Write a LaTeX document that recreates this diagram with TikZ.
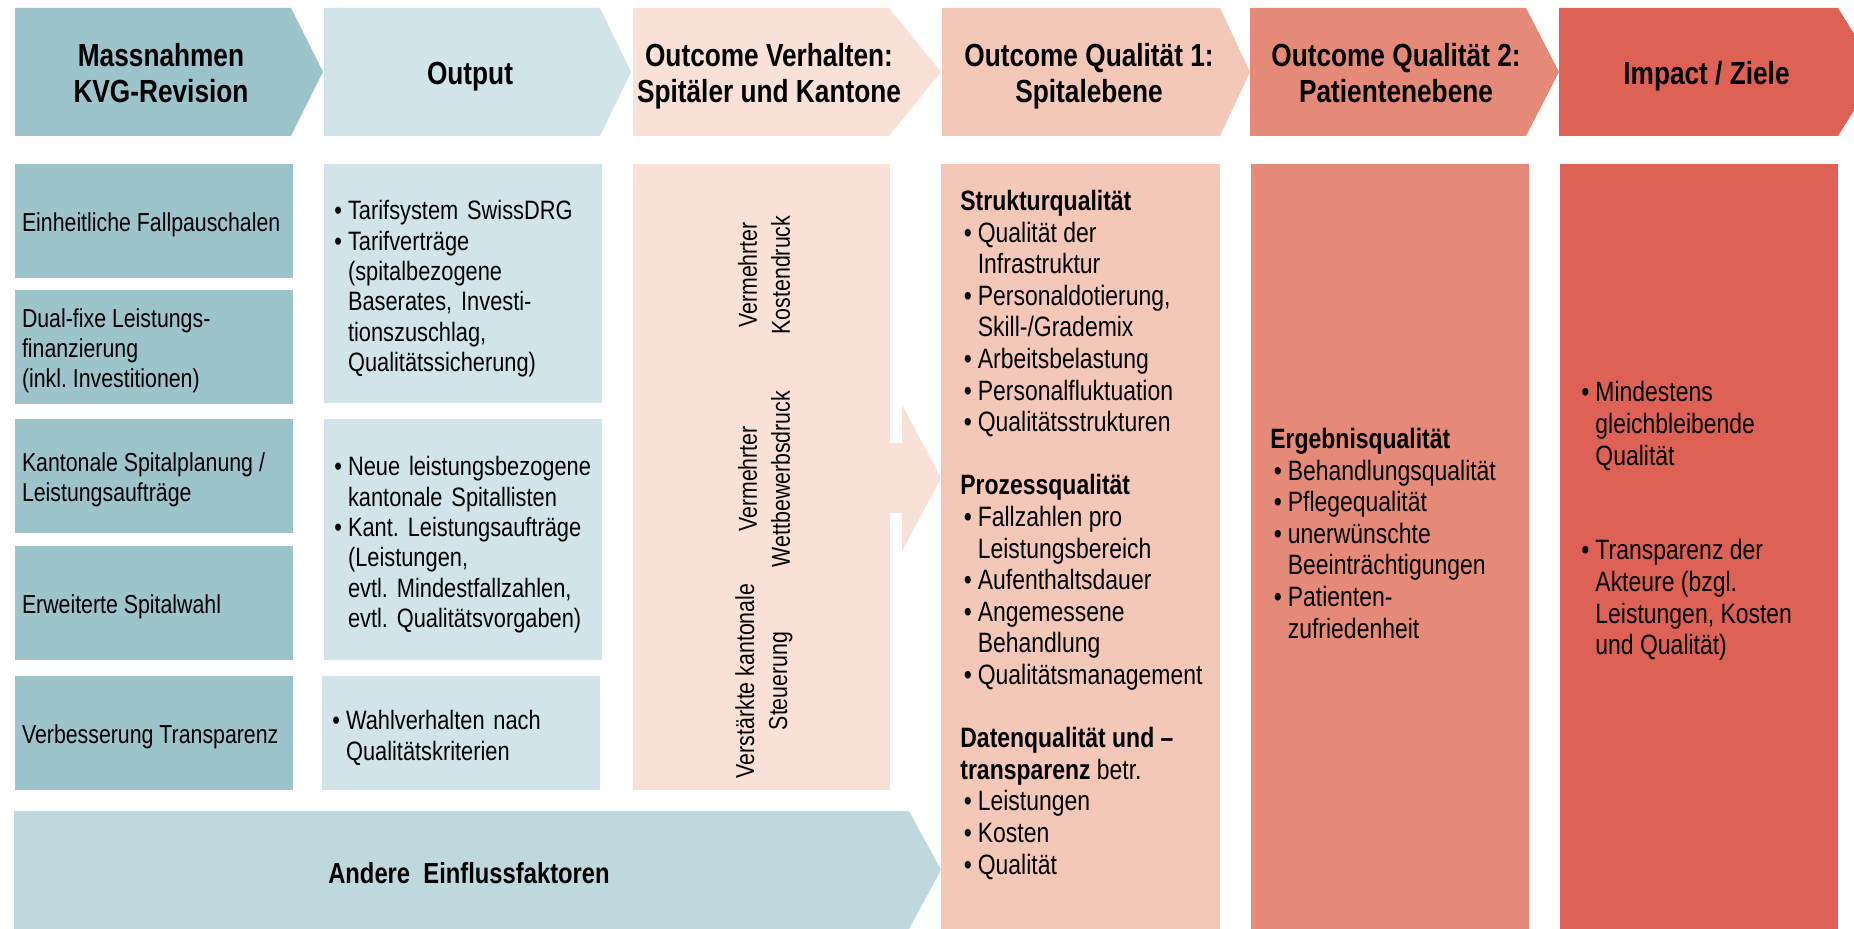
\documentclass[tikz,border=0pt]{standalone}
\usepackage{fontspec}
\setmainfont{Liberation Sans}[FakeStretch=0.82]
\usepackage{array}
\definecolor{tealDark}{RGB}{157, 195, 203}
\definecolor{tealLight}{RGB}{208, 228, 233}
\definecolor{tealMid}{RGB}{190, 216, 221}
\definecolor{peachLight}{RGB}{250, 225, 216}
\definecolor{peachMid}{RGB}{244, 200, 185}
\definecolor{salmon}{RGB}{229, 137, 120}
\definecolor{coral}{RGB}{221, 98, 85}
\newenvironment{bulletlist}[1][0pt]{\begin{tabular}{@{\hspace{#1}}l@{\hspace{3pt}}l@{}}}{\end{tabular}}
\newcommand{\lRow}[1]{\multicolumn{2}{@{}l@{}}{#1}}
\newcommand{\lowered}[2][3pt]{\raisebox{-#1}[\height][\depth]{#2}}
\newcommand{\lHeadMeasures}{Massnahmen\\KVG-Revision}
\newcommand{\lHeadOutput}{Output}
\newcommand{\lHeadBehaviour}{Outcome Verhalten:\\Spitäler und Kantone}
\newcommand{\lHeadHospital}{Outcome Qualität 1:\\Spitalebene}
\newcommand{\lHeadPatient}{Outcome Qualität 2:\\Patientenebene}
\newcommand{\lHeadImpact}{Impact / Ziele}
\newcommand{\lMeasureA}{Einheitliche Fallpauschalen}
\newcommand{\lMeasureB}{Dual-fixe Leistungs-\\finanzierung\\(inkl. Investitionen)}
\newcommand{\lMeasureC}{Kantonale Spitalplanung /\\Leistungsaufträge}
\newcommand{\lMeasureD}{Erweiterte Spitalwahl}
\newcommand{\lMeasureE}{Verbesserung Transparenz}
\newcommand{\lOutputTariff}{\lowered{\begin{bulletlist}
\textbullet & Tarifsystem SwissDRG\\
\textbullet & Tarifverträge\\
 & (spitalbezogene\\
 & Baserates, Investi-\\
 & tionszuschlag,\\
 & Qualitätssicherung)
\end{bulletlist}}}
\newcommand{\lOutputPlanning}{\lowered{\begin{bulletlist}
\textbullet & Neue leistungsbezogene\\
 & kantonale Spitallisten\\
\textbullet & Kant. Leistungsaufträge\\
 & (Leistungen,\\
 & evtl. Mindestfallzahlen,\\
 & evtl. Qualitätsvorgaben)
\end{bulletlist}}}
\newcommand{\lOutputChoice}{\lowered{\begin{bulletlist}
\textbullet & Wahlverhalten nach\\
 & Qualitätskriterien
\end{bulletlist}}}
\newcommand{\lHospital}{\begin{bulletlist}[1.7pt]
\lRow{\textbf{Strukturqualität}}\\
\textbullet & Qualität der\\
 & Infrastruktur\\
\textbullet & Personaldotierung,\\
 & Skill-/Grademix\\
\textbullet & Arbeitsbelastung\\
\textbullet & Personalfluktuation\\
\textbullet & Qualitätsstrukturen\\
 & \\
\lRow{\textbf{Prozessqualität}}\\
\textbullet & Fallzahlen pro\\
 & Leistungsbereich\\
\textbullet & Aufenthaltsdauer\\
\textbullet & Angemessene\\
 & Behandlung\\
\textbullet & Qualitätsmanagement\\
 & \\
\lRow{\textbf{Datenqualität und –}}\\
\lRow{\textbf{transparenz} betr.}\\
\textbullet & Leistungen\\
\textbullet & Kosten\\
\textbullet & Qualität
\end{bulletlist}}
\newcommand{\lPatient}{\begin{bulletlist}[1.7pt]
\lRow{\textbf{Ergebnisqualität}}\\
\textbullet & Behandlungsqualität\\
\textbullet & Pflegequalität\\
\textbullet & unerwünschte\\
 & Beeinträchtigungen\\
\textbullet & Patienten-\\
 & zufriedenheit
\end{bulletlist}}
\newcommand{\lImpact}{\begin{bulletlist}
\textbullet & Mindestens\\
 & gleichbleibende\\
 & Qualität\\
 & \\
 & \\
\textbullet & Transparenz der\\
 & Akteure (bzgl.\\
 & Leistungen, Kosten\\
 & und Qualität)
\end{bulletlist}}

\begin{document}
\frenchspacing
\begin{tikzpicture}[x=0.5pt, y=-0.5pt,
        head/.style={font=\bfseries\fontsize{16}{17.7}\selectfont, align=center, inner sep=0pt, text depth=0pt},
        measure/.style={fill=tealDark, minimum width=139pt, inner xsep=3.5pt, inner ysep=0pt, minimum height=57pt, font=\fontsize{13}{15}\selectfont},
        output/.style={fill=tealLight, text width=128.6pt, inner xsep=5.2pt, inner ysep=0pt, align=left, font=\fontsize{13.3}{15.15}\selectfont},
        effect/.style={rotate=90, align=center, inner sep=0pt, font=\fontsize{13}{16.5}\selectfont},
        quality/.style={anchor=west, inner sep=0pt, font=\fontsize{14}{15.8}\selectfont}
    ]

    \clip (0,0) rectangle (1854,929);

    % header chevrons
    \foreach \xl/\xb/\xt/\fillc/\txt [count=\i] in {15/291/323/tealDark/\lHeadMeasures, 324/600/631/tealLight/\lHeadOutput, 633/889/941/peachLight/\lHeadBehaviour, 942/1220/1250/peachMid/\lHeadHospital, 1250/1526/1559/salmon/\lHeadPatient, 1559/1838/1878/coral/\lHeadImpact} {
        \fill[\fillc] (\xl,8) -- (\xb,8) -- (\xt,72) -- (\xb,136) -- (\xl,136) -- cycle;
        \node[head] (head \i) at ({(\xl+\xb)/2+8},73) {\txt};
    }

    % measures
    \foreach \y/\txt [count=\i] in {221/\lMeasureA, 347/\lMeasureB, 476/\lMeasureC, 603/\lMeasureD, 733/\lMeasureE}
        \node[measure] (measure \i) at (154,\y) {\lowered[1.75pt]{\parbox{132pt}{\raggedright\txt}}};

    % outputs
    \node[output, minimum height=119.5pt] (output 1) at (463,283.5) {\lOutputTariff};
    \node[output, minimum height=120.5pt] (output 2) at (463,539.5) {\lOutputPlanning};
    \node[output, minimum height=57pt] (output 3) at (461,733) {\lOutputChoice};

    % behaviour of hospitals and cantons
    \fill[peachLight] (633,164) rectangle (890,790);
    \fill[peachLight] (889,443) -- (902,443) -- (902,405) -- (941,478) -- (902,551) -- (902,513) -- (889,513) -- cycle;
    \node[effect] (effect cost) at (764,275) {Vermehrter\\Kostendruck};
    \node[effect] (effect competition) at (764,479) {Vermehrter\\Wettbewerbsdruck};
    \node[effect] (effect canton) at (764,681) {Verstärkte kantonale\\Steuerung};

    % quality columns
    \fill[peachMid] (941,164) rectangle (1220,935);
    \fill[salmon] (1251,164) rectangle (1529,935);
    \fill[coral] (1560,164) rectangle (1838,935);
    \node[quality] (hospital) at (960,536) {\lHospital};
    \node[quality] (patient) at (1270,537) {\lPatient};
    \node[quality] (impact) at (1581,522) {\lImpact};

    % other factors
    \fill[tealMid] (14,811) -- (909,811) -- (941,870) -- (909,929) -- (14,929) -- cycle;
    \node[head, font=\bfseries\fontsize{14.5}{16}\selectfont] (other) at (469,873) {Andere\ \ Einflussfaktoren};

\end{tikzpicture}
\end{document}
